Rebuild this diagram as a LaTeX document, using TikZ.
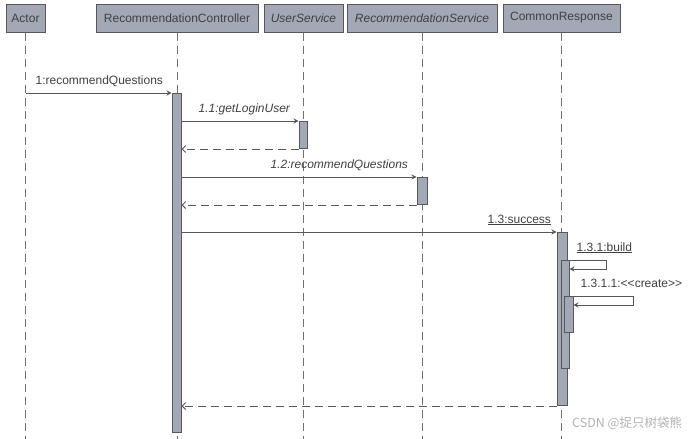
\documentclass[tikz,border=0pt]{standalone}
\usepackage{fontspec}
\setmainfont{Liberation Sans}
\newfontfamily\cjkfont{Noto Sans CJK SC}
\usetikzlibrary{arrows.meta,positioning,calc}
\definecolor{boxfill}{HTML}{A3A8B7}
\definecolor{boxline}{HTML}{585858}
\definecolor{txtgray}{HTML}{404040}

\begin{document}
\begin{tikzpicture}[x=1pt, y=-1pt, font=\fontsize{12}{14}\selectfont, >=Stealth,
  head/.style={draw=boxline, fill=boxfill, line width=1pt, minimum height=28pt,
    inner sep=0pt, text=txtgray},
  lifeline/.style={draw=boxline!85, line width=1pt, dash pattern=on 8pt off 5pt},
  bar/.style={draw=boxline, fill=boxfill, line width=1pt, inner sep=0pt, anchor=north},
  call/.style={draw=boxline, line width=1pt, -{Stealth[length=5pt,width=5pt]}},
  reply/.style={draw=boxline, line width=1pt, dash pattern=on 8pt off 5pt,
    -{Straight Barb[length=3.5pt,width=7pt]}},
  msg/.style={text=txtgray, inner sep=0pt, anchor=base east, xshift=-8pt, yshift=9pt},
  selfmsg/.style={text=txtgray, inner sep=0pt, anchor=base west}]
  \useasboundingbox (0,0) rectangle (689,439);
  %% Lifeline heads
  \node[head, minimum width=39pt]  (actor) at (25.5,18)  {Actor};
  \node[head, minimum width=162pt] (ctl)   at (177,18)   {RecommendationController};
  \node[head, minimum width=79pt]  (usr)   at (303.5,18) {\itshape UserService};
  \node[head, minimum width=150pt] (rec)   at (422,18)   {\itshape RecommendationService};
  \node[head, minimum width=117pt] (resp)  at (561.5,18) {CommonResponse};
  %% Dashed lifelines
  \foreach \h in {actor,ctl,usr,rec,resp}{
    \draw[lifeline] (\h.south) -- (\h.south |- 0,439);
  }
  %% Activation bars
  \node[bar, minimum width=9pt,  minimum height=339pt] (ctlbar)  at (176.5,93) {};
  \node[bar, minimum width=8pt,  minimum height=27pt]  (usrbar)  at (303,121)  {};
  \node[bar, minimum width=10pt, minimum height=27pt]  (recbar)  at (422,177)  {};
  \node[bar, minimum width=10pt, minimum height=173pt] (respbar) at (562,232)  {};
  \node[bar, minimum width=8pt,  minimum height=108pt] (bldbar)  at (565,260)  {};
  \node[bar, minimum width=9pt,  minimum height=36pt]  (crtbar)  at (568.5,296) {};
  %% 1: recommendQuestions
  \draw[call] (actor.south |- ctlbar.north) -- (ctlbar.north west)
    node[msg] {1:recommendQuestions};
  %% 1.1 getLoginUser + reply
  \draw[call] (ctlbar.east |- usrbar.north) -- (usrbar.north west)
    node[msg] {\itshape 1.1:getLoginUser};
  \draw[reply] (usrbar.south west) -- (ctlbar.east |- usrbar.south);
  %% 1.2 recommendQuestions + reply
  \draw[call] (ctlbar.east |- recbar.north) -- (recbar.north west)
    node[msg] {\itshape 1.2:recommendQuestions};
  \draw[reply] (recbar.south west) -- (ctlbar.east |- recbar.south);
  %% 1.3 success
  \draw[call] (ctlbar.east |- respbar.north) -- (respbar.north west)
    node[msg, xshift=3pt] {\underline{1.3:success}};
  %% 1.3.1 build (self call)
  \draw[call] (respbar.east |- bldbar.north) -- ++(39,0)
    |- ($(bldbar.north east)+(0,9)$);
  \node[selfmsg] (bldlbl) at ($(respbar.east |- bldbar.north)+(9,-9)$)
    {\underline{1.3.1:build}};
  %% 1.3.1.1 create (self call)
  \draw[call] (bldbar.east |- crtbar.north) -- ++(64,0)
    |- ($(crtbar.north east)+(0,9)$);
  \node[selfmsg] (crtlbl) at ($(bldbar.east |- crtbar.north)+(11,-9)$)
    {1.3.1.1:<{}<create>{}>};
  %% reply of 1.3
  \draw[reply] (respbar.south west) -- (ctlbar.east |- respbar.south);
  %% watermark
  \node[text=gray!60, inner sep=0pt, anchor=west] (mark) at (572,423)
    {\cjkfont\fontsize{12.5}{14}\selectfont CSDN @捉只树袋熊};
\end{tikzpicture}
\end{document}
